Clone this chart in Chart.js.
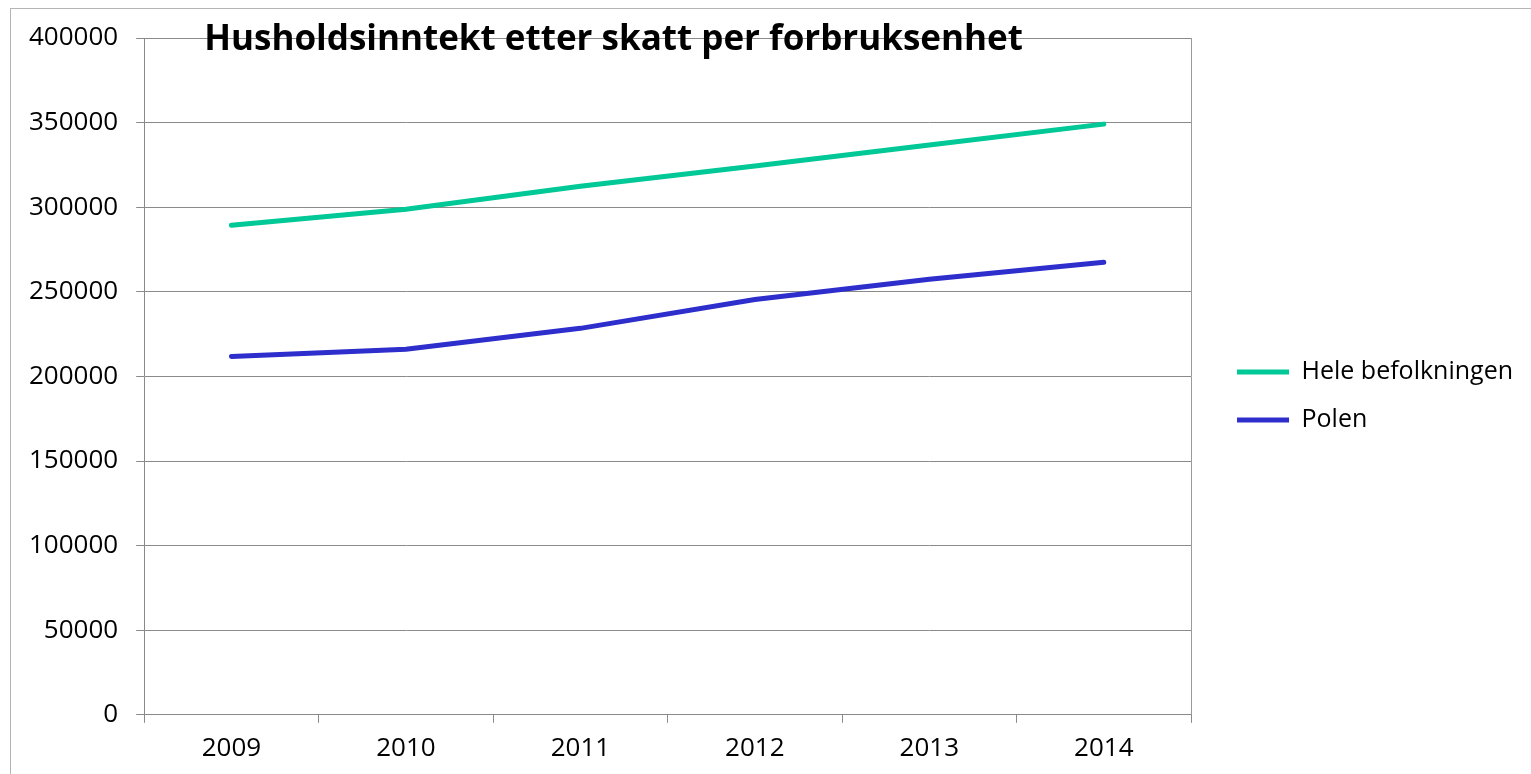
<!DOCTYPE html>
<html>
<head>
<meta charset="utf-8">
<script src="https://cdn.jsdelivr.net/npm/chart.js@4.4.1/dist/chart.umd.min.js"></script>
<style>
  html, body { margin: 0; padding: 0; background: #fff; }
  #wrap { position: relative; width: 1531px; height: 774px; overflow: hidden; }
  #frame { position: absolute; left: 10px; top: 8px; width: 1600px; height: 900px; border: 1px solid #b4b4b4; }
  #grafico { position: absolute; left: 0; top: 0; }
</style>
</head>
<body>
<div id="wrap">
  <div id="frame"></div>
  <canvas id="grafico" width="1531" height="774"></canvas>
</div>
<script>
//-----DATOS
const years = ['2009', '2010', '2011', '2012', '2013', '2014']
const heleBefolkningen = [289300, 298800, 312400, 324300, 336700, 349100]
const polen = [211800, 216000, 228400, 245400, 257400, 267500]
const titulo = 'Husholdsinntekt etter skatt per forbruksenhet'

const fuente = "'Open Sans', 'Noto Sans', sans-serif"

//Titulo, borde derecho del area y espacio antes de la leyenda
const extras = {
    id: 'extras',
    afterLayout(chart) {
        chart.legend.left += 23
        chart.legend.right += 23
        chart.legend.top -= 10
        chart.legend.bottom -= 10
    },
    afterDraw(chart) {
        const ctx = chart.ctx
        const area = chart.chartArea
        ctx.save()
        ctx.strokeStyle = '#9a9a9a'
        ctx.lineWidth = 1
        ctx.beginPath()
        ctx.moveTo(Math.round(area.right) + 0.5, area.top)
        ctx.lineTo(Math.round(area.right) + 0.5, area.bottom)
        ctx.stroke()
        ctx.font = 'bold 35px ' + fuente
        ctx.fillStyle = '#000'
        ctx.textAlign = 'left'
        ctx.textBaseline = 'alphabetic'
        ctx.fillText(titulo, area.left + 60, 50)
        ctx.restore()
    }
}

const canvas = document.getElementById('grafico')

const data = {
    labels: years,
    datasets: [{
        label: 'Hele befolkningen',
        data: heleBefolkningen,
        fill: false,
        borderColor: 'rgb(0, 200, 150)',
        backgroundColor: 'rgb(0, 200, 150)',
        borderWidth: 5,
        borderCapStyle: 'round',
        pointRadius: 0,
        tension: 0
    }, {
        label: 'Polen',
        data: polen,
        fill: false,
        borderColor: 'rgb(46, 46, 204)',
        backgroundColor: 'rgb(46, 46, 204)',
        borderWidth: 5,
        borderCapStyle: 'round',
        pointRadius: 0,
        tension: 0
    }]
}

const config = {
    type: 'line',
    data: data,
    plugins: [extras],
    options: {
        responsive: false,
        animation: false,
        layout: {
            padding: { top: 38, right: 31, bottom: 0, left: 11 }
        },
        plugins: {
            title: { display: false },
            tooltip: { enabled: false },
            legend: {
                position: 'right',
                labels: {
                    usePointStyle: true,
                    pointStyle: 'line',
                    pointStyleWidth: 52,
                    boxWidth: 52,
                    padding: 23,
                    color: '#000',
                    font: { family: fuente, size: 25 }
                }
            }
        },
        scales: {
            x: {
                offset: true,
                grid: {
                    offset: true,
                    drawOnChartArea: false,
                    drawTicks: true,
                    tickLength: 8,
                    color: '#8a8a8a'
                },
                border: { color: '#8a8a8a', width: 1 },
                ticks: {
                    color: '#000',
                    padding: 10,
                    maxRotation: 0,
                    font: { family: fuente, size: 26 }
                }
            },
            y: {
                min: 0,
                max: 400000,
                grid: {
                    color: '#8a8a8a',
                    drawTicks: true,
                    tickLength: 8
                },
                border: { color: '#8a8a8a', width: 1 },
                ticks: {
                    stepSize: 50000,
                    color: '#000',
                    padding: 18,
                    font: { family: fuente, size: 26 },
                    callback: value => String(value)
                }
            }
        }
    }
}

const graph = new Chart(canvas, config)
</script>
</body>
</html>
